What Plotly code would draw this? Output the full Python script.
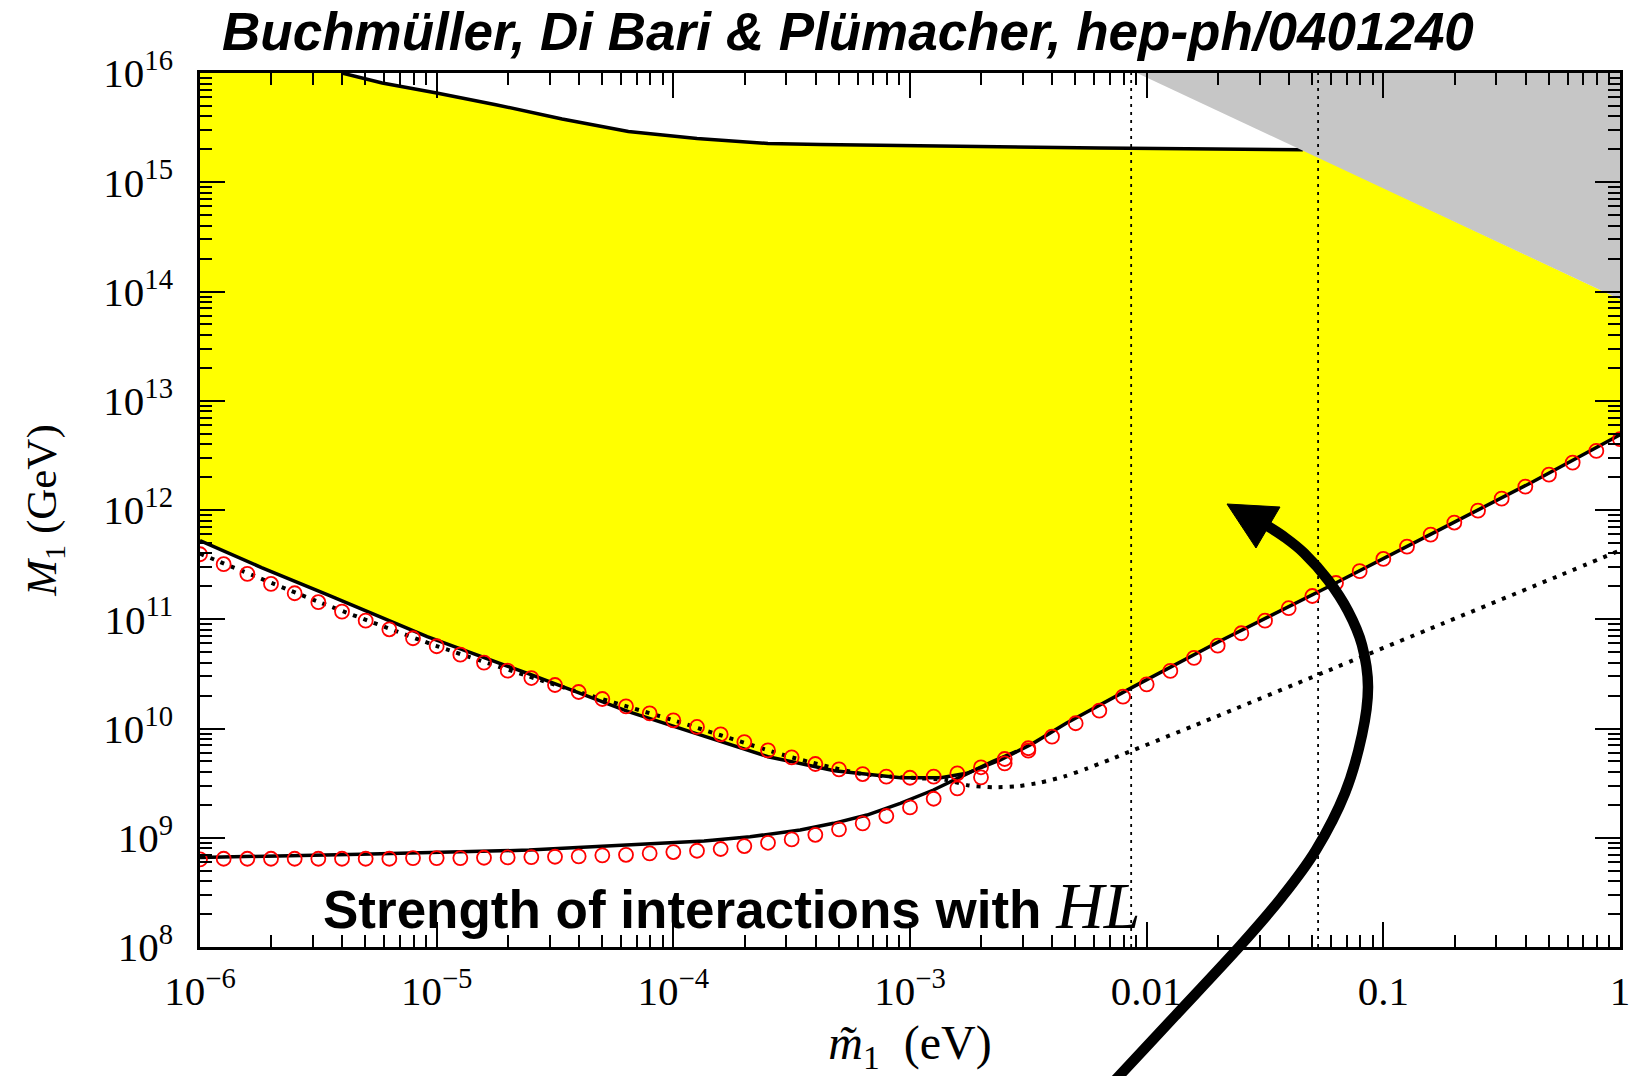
import numpy as np
import plotly.graph_objects as go

# ---------------------------------------------------------------------------
# Curves in log10 units: lg_m = log10(m~1 / eV), lg_M = log10(M1 / GeV)
# ---------------------------------------------------------------------------

# red circles, upper branch (left descending part + right rising part)
lg_m_circ_up = [-6.0, -5.9, -5.8, -5.7, -5.6, -5.5, -5.4, -5.3, -5.2, -5.1,
                -5.0, -4.9, -4.8, -4.7, -4.6, -4.5, -4.4, -4.3, -4.2, -4.1,
                -4.0, -3.9, -3.8, -3.7, -3.6, -3.5, -3.4, -3.3, -3.2, -3.1,
                -3.0, -2.9, -2.8, -2.7, -2.6, -2.5, -2.4, -2.3, -2.2, -2.1,
                -2.0, -1.9, -1.8, -1.7, -1.6, -1.5, -1.4, -1.3, -1.2, -1.1,
                -1.0, -0.9, -0.8, -0.7, -0.6, -0.5, -0.4, -0.3, -0.2, -0.1,
                0.0]
lg_M_circ_up = [11.595, 11.504, 11.415, 11.323, 11.238, 11.156, 11.070, 10.987, 10.908, 10.826,
                10.753, 10.676, 10.603, 10.529, 10.462, 10.398, 10.334, 10.270, 10.203, 10.139,
                10.075, 10.014, 9.947, 9.876, 9.800, 9.736, 9.675, 9.626, 9.583, 9.559,
                9.549, 9.559, 9.590, 9.645, 9.721, 9.819, 9.925, 10.048, 10.163, 10.291,
                10.404, 10.527, 10.646, 10.758, 10.872, 10.987, 11.101, 11.213, 11.332, 11.440,
                11.552, 11.665, 11.775, 11.885, 11.994, 12.104, 12.214, 12.324, 12.434, 12.541,
                12.648]

# red circles, lower branch (joins the upper one near 3e-3 eV)
lg_m_circ_lo = [-6.0, -5.9, -5.8, -5.7, -5.6, -5.5, -5.4, -5.3, -5.2, -5.1,
                -5.0, -4.9, -4.8, -4.7, -4.6, -4.5, -4.4, -4.3, -4.2, -4.1,
                -4.0, -3.9, -3.8, -3.7, -3.6, -3.5, -3.4, -3.3, -3.2, -3.1,
                -3.0, -2.9, -2.8, -2.7, -2.6, -2.5]
lg_M_circ_lo = [8.802, 8.808, 8.808, 8.808, 8.808, 8.808, 8.808, 8.808, 8.808, 8.814,
                8.814, 8.814, 8.817, 8.820, 8.823, 8.826, 8.830, 8.839, 8.844, 8.857,
                8.869, 8.881, 8.897, 8.924, 8.954, 8.985, 9.027, 9.077, 9.132, 9.199,
                9.278, 9.357, 9.452, 9.553, 9.681, 9.797]

# solid lower boundary of the allowed (yellow) region
lg_m_bound_up = [-6.0, -5.88, -5.74, -5.46, -5.04, -4.61, -4.19, -3.87, -3.6, -3.32,
                 -3.04, -2.87, -2.76, -2.62, -2.48, -2.34, -2.2, -2.055, -1.7, -1.23,
                 -0.78, -0.38, 0.0]
lg_M_bound_up = [11.72, 11.604, 11.473, 11.223, 10.841, 10.499, 10.154, 9.93, 9.742, 9.614,
                 9.549, 9.549, 9.59, 9.711, 9.864, 10.048, 10.215, 10.383, 10.79, 11.30,
                 11.80, 12.245, 12.688]

# solid lower curve
lg_m_bound_lo = [-6.0, -5.32, -4.61, -4.19, -3.87, -3.676, -3.464, -3.323, -3.182, -3.041,
                 -2.901, -2.76, -2.65, -2.55]
lg_M_bound_lo = [8.820, 8.848, 8.887, 8.933, 8.97, 9.009, 9.071, 9.132, 9.208, 9.315,
                 9.437, 9.585, 9.70, 9.79]

# solid upper boundary of the allowed region
lg_m_top = [-5.40, -5.23, -5.0, -4.75, -4.47, -4.19, -3.9, -3.6, -3.38, -2.9, -2.2, -1.34]
lg_M_top = [16.0, 15.908, 15.817, 15.71, 15.579, 15.465, 15.40, 15.355, 15.346, 15.33, 15.313, 15.298]

# dotted curve
lg_m_dot = [-6.0, -5.5, -5.0, -4.5, -4.0, -3.5, -3.2, -3.0, -2.85, -2.75, -2.65, -2.55,
            -2.45, -2.35, -2.25, -2.15, -1.75, -1.25, -0.75, -0.25, 0.0]
lg_M_dot = [11.60, 11.16, 10.755, 10.40, 10.075, 9.736, 9.583, 9.549, 9.53, 9.478, 9.462, 9.47,
            9.505, 9.56, 9.635, 9.72, 10.07, 10.515, 10.96, 11.405, 11.63]

# vertical reference masses (eV)
m_vlines = [0.0086, 0.053]

# excluded (gray) wedge: corners on the top and right frame
gray_m_top = 0.0091
gray_M_right = 8.5e13

# axis ticks
x_tickvals = [1e-6, 1e-5, 1e-4, 1e-3, 1e-2, 1e-1, 1]
x_ticktext = ["10<sup>\u22126</sup>", "10<sup>\u22125</sup>", "10<sup>\u22124</sup>",
              "10<sup>\u22123</sup>", "0.01", "0.1", "1"]
y_tickvals = [1e8, 1e9, 1e10, 1e11, 1e12, 1e13, 1e14, 1e15, 1e16]
y_ticktext = ["10<sup>%d</sup>" % k for k in range(8, 17)]
x_minor = [k * 10.0 ** e for e in range(-6, 0) for k in range(2, 10)]
y_minor = [k * 10.0 ** e for e in range(8, 16) for k in range(2, 10)]


def pw(v):
    return list(np.power(10.0, np.asarray(v, dtype=float)))


SERIF = "Liberation Serif"
SANS = "Liberation Sans"

fig = go.Figure()

# allowed region (yellow)
top_m, top_M = pw(lg_m_top), pw(lg_M_top)
bu_m, bu_M = pw(lg_m_bound_up), pw(lg_M_bound_up)
poly_x = [1e-6] + top_m + [1.0, 1.0] + bu_m[::-1]
poly_y = [1e16] + top_M + [gray_M_right, bu_M[-1]] + bu_M[::-1]
fig.add_trace(go.Scatter(x=poly_x, y=poly_y, mode="lines", fill="toself",
                         fillcolor="#ffff00", line=dict(width=0), hoverinfo="skip"))

# upper boundary line
fig.add_trace(go.Scatter(x=top_m, y=top_M, mode="lines",
                         line=dict(color="black", width=3.5)))

# excluded wedge (gray)
fig.add_trace(go.Scatter(x=[gray_m_top, 1.0, 1.0], y=[1e16, 1e16, gray_M_right],
                         mode="lines", fill="toself", fillcolor="#c6c6c6",
                         line=dict(width=0), hoverinfo="skip"))

# vertical dotted markers
for mv in m_vlines:
    fig.add_trace(go.Scatter(x=[mv, mv], y=[1e8, 1e16], mode="lines",
                             line=dict(color="black", width=1.8, dash="3px,5px")))

# solid curves
fig.add_trace(go.Scatter(x=pw(lg_m_bound_lo), y=pw(lg_M_bound_lo), mode="lines",
                         line=dict(color="black", width=3.5)))
fig.add_trace(go.Scatter(x=bu_m, y=bu_M, mode="lines",
                         line=dict(color="black", width=3.5)))

# dotted curve
fig.add_trace(go.Scatter(x=pw(lg_m_dot), y=pw(lg_M_dot), mode="lines",
                         line=dict(color="black", width=4, dash="4px,7px", shape="spline",
                                   smoothing=0.6)))

# red open circles
circ = dict(symbol="circle-open", size=14, color="#ff0000", line=dict(width=1.8, color="#ff0000"))
fig.add_trace(go.Scatter(x=pw(lg_m_circ_lo), y=pw(lg_M_circ_lo), mode="markers", marker=circ))
fig.add_trace(go.Scatter(x=pw(lg_m_circ_up), y=pw(lg_M_circ_up), mode="markers", marker=circ))

# ---------------------------------------------------------------------------
# layout geometry
# ---------------------------------------------------------------------------
W, H = 1631, 1076
ML, MR, MT, MB = 200, 11, 73, 129
PW, PH = W - ML - MR, H - MT - MB


def to_paper(px, py):
    return (px - ML) / PW, (H - MB - py) / PH


def smooth_path(points):
    pts = [to_paper(*p) for p in points]
    d = "M%.5f,%.5f" % pts[0]
    for i in range(len(pts) - 1):
        p0 = pts[i - 1] if i > 0 else pts[i]
        p1, p2 = pts[i], pts[i + 1]
        p3 = pts[i + 2] if i + 2 < len(pts) else pts[i + 1]
        c1 = (p1[0] + (p2[0] - p0[0]) / 6, p1[1] + (p2[1] - p0[1]) / 6)
        c2 = (p2[0] - (p3[0] - p1[0]) / 6, p2[1] - (p3[1] - p1[1]) / 6)
        d += " C%.5f,%.5f %.5f,%.5f %.5f,%.5f" % (c1 + c2 + p2)
    return d


# curved arrow (page pixels), drawn as a smooth shaft plus a filled head
arrow_shaft = [(1106, 1090), (1175, 1016), (1240, 946), (1282, 897), (1316, 850),
               (1345, 793), (1362, 735), (1368, 687), (1362, 645), (1348, 611),
               (1328, 580), (1304, 553), (1283, 536), (1266, 525)]
arrow_head = [(1227, 504), (1280, 507), (1256, 548)]
head = [to_paper(*p) for p in arrow_head]
head_path = "M%.5f,%.5f L%.5f,%.5f L%.5f,%.5f Z" % (head[0] + head[1] + head[2])

shapes = [
    dict(type="path", path=smooth_path(arrow_shaft), xref="paper", yref="paper",
         line=dict(color="black", width=10.5), layer="above"),
    dict(type="path", path=head_path, xref="paper", yref="paper",
         fillcolor="black", line=dict(color="black", width=1), layer="above"),
]

tx, ty = to_paper(848, 31.6)
sx, sy = to_paper(321, 905.6)
annotations = [
    dict(text="<b><i>Buchm\u00fcller, Di Bari &amp; Pl\u00fcmacher, hep-ph/0401240</i></b>",
         x=tx, y=ty, xref="paper", yref="paper", xanchor="center", yanchor="middle",
         showarrow=False, font=dict(family=SANS, size=53, color="black")),
    dict(text="<b>Strength of interactions with </b>"
              "<span style='font-family:Liberation Serif;font-size:66px'><i>HL</i></span>",
         x=sx, y=sy, xref="paper", yref="paper", xanchor="left", yanchor="middle",
         showarrow=False, font=dict(family=SANS, size=53, color="black")),
]

axis_common = dict(
    type="log", showgrid=False, zeroline=False, automargin=False,
    showline=True, linecolor="black", linewidth=2.5, mirror="allticks",
    ticks="inside", ticklen=25, tickwidth=2, tickcolor="black",
    tickfont=dict(family=SERIF, size=41, color="black"),
)

fig.update_layout(
    width=W, height=H,
    margin=dict(l=ML, r=MR, t=MT, b=MB, autoexpand=False),
    paper_bgcolor="white", plot_bgcolor="white",
    showlegend=False,
    xaxis=dict(axis_common, range=[-6, 0], tickmode="array",
               tickvals=x_tickvals, ticktext=x_ticktext, ticklabelstandoff=6,
               minor=dict(tickmode="array", tickvals=x_minor, ticks="inside",
                          ticklen=12, tickwidth=2, tickcolor="black", showgrid=False),
               title=dict(text="<i>m\u0303</i><sub>1</sub>  (eV)",
                          font=dict(family=SERIF, size=48, color="black"), standoff=27)),
    yaxis=dict(axis_common, range=[8, 16], tickmode="array",
               tickvals=y_tickvals, ticktext=y_ticktext, ticklabelstandoff=16,
               minor=dict(tickmode="array", tickvals=y_minor, ticks="inside",
                          ticklen=12, tickwidth=2, tickcolor="black", showgrid=False),
               title=dict(text="<i>M</i><sub>1</sub> (GeV)",
                          font=dict(family=SERIF, size=43, color="black"), standoff=34)),
    shapes=shapes,
    annotations=annotations,
)

fig.write_html("out.html")
